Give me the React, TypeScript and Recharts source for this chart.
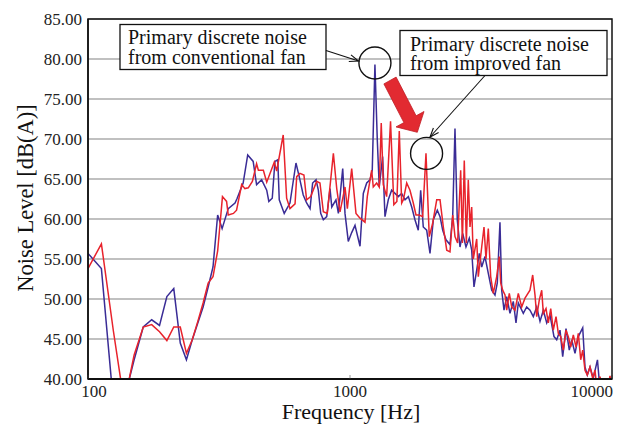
import React from "react";
import { LineChart, Line, XAxis, YAxis, CartesianGrid, ReferenceDot } from "recharts";

const blueFreq = [100, 112.5, 125, 137.5, 150, 162.5, 175, 187.5, 200, 212.5, 225, 237.5, 250, 262.5, 275, 287.5, 300, 312.5, 325, 343, 364, 371, 391, 407, 427, 440, 460, 481, 490, 505, 517, 530, 537, 561, 590, 622, 640, 663, 683, 704, 720, 742, 757, 773, 791, 815, 839, 852, 884, 903, 938, 957, 985, 1015, 1045, 1092, 1124, 1158, 1192, 1216, 1245, 1271, 1293, 1332, 1360, 1400, 1442, 1485, 1529, 1574, 1622, 1670, 1720, 1770, 1822, 1861, 1904, 1962, 2020, 2080, 2154, 2206, 2259, 2325, 2408, 2466, 2516, 2567, 2629, 2692, 2771, 2853, 2914, 2973, 3045, 3115, 3182, 3275, 3372, 3474, 3576, 3649, 3736, 3793, 3871, 3964, 4080, 4200, 4301, 4389, 4586, 4725, 4864, 5008, 5160, 5312, 5468, 5635, 5800, 6006, 6151, 6332, 6484, 6675, 6871, 7018, 7225, 7438, 7731, 7888, 8049, 8241, 8484, 8800, 8950, 9200, 10000];
const blueLevel = [55.7, 53.8, 37, 37.5, 42.4, 46.5, 47.4, 46.7, 50.3, 51.3, 44.5, 42.4, 44.9, 47, 49, 51.5, 54, 60.5, 58.8, 61.3, 62, 62.6, 64.5, 68, 67.2, 64.3, 64.9, 63.6, 62.2, 62.6, 67.2, 67.4, 62.4, 60.7, 62, 67, 65.3, 63, 62, 61.3, 64.5, 64.9, 63.6, 60.7, 59.9, 60.3, 63.8, 61.5, 62.4, 60.7, 66.3, 60.7, 57.2, 58.3, 59.2, 56.6, 63.2, 64.5, 64.9, 66.1, 79.3, 69.9, 64, 67.8, 60.3, 62.4, 63.6, 63.2, 62.8, 63.2, 62.4, 62.8, 61.5, 59.9, 58.6, 63.6, 59, 58.6, 55.7, 59.9, 61.1, 60.3, 58.6, 57.4, 56.8, 60.3, 71.3, 59.9, 56.5, 58.2, 56.5, 57.6, 56.1, 51.5, 53.6, 55.7, 54, 55.3, 53.2, 51.1, 50.5, 52, 59.6, 51.1, 48.6, 50.3, 48.2, 49.7, 47, 49.5, 48.2, 49, 48.6, 47.8, 49, 47.2, 48.6, 47, 48, 45.3, 44.9, 46.1, 42.8, 46.3, 43.6, 44.9, 43.2, 45.3, 46.4, 41.5, 40.5, 41.5, 40.1, 42.4, 39.6, 37, 36];

const redFreq = [100, 112.5, 125, 137.5, 150, 162.5, 175, 187.5, 200, 212.5, 225, 237.5, 250, 262.5, 275, 287.5, 300, 312.5, 326, 338, 343, 359, 369, 386, 397, 409, 424, 440, 447, 467, 481, 514, 525, 556, 573, 590, 617, 626, 644, 667, 683, 708, 746, 768, 791, 819, 864, 890, 916, 957, 977, 1015, 1054, 1092, 1141, 1164, 1210, 1227, 1264, 1293, 1316, 1340, 1380, 1428, 1470, 1510, 1542, 1575, 1598, 1646, 1694, 1744, 1786, 1838, 1894, 1950, 2007, 2069, 2143, 2206, 2271, 2340, 2408, 2466, 2516, 2575, 2645, 2685, 2730, 2780, 2828, 2871, 2914, 2955, 3045, 3088, 3182, 3247, 3304, 3372, 3443, 3523, 3630, 3713, 3760, 3826, 3905, 3964, 4055, 4142, 4264, 4389, 4522, 4655, 4864, 4981, 5083, 5160, 5279, 5392, 5468, 5600, 5714, 5836, 5970, 6114, 6239, 6372, 6519, 6675, 6812, 6957, 7118, 7289, 7438, 7596, 7731, 7888, 8049, 8241, 8439, 8612, 8742, 8998, 9400, 9826, 10000];
const redLevel = [53.8, 56.9, 46, 37, 43, 46.5, 46.8, 45.9, 44.8, 46.5, 46.5, 43.2, 44.9, 47.2, 49.5, 52, 52.8, 56, 62.8, 62.2, 60.5, 60.7, 61.1, 64.3, 63.8, 63.9, 64.7, 66.9, 66.1, 66.1, 64.6, 67.1, 66, 70.5, 62.6, 61.3, 61.9, 65.3, 65.7, 65.5, 62.4, 62.8, 64.7, 64.5, 60.9, 60.7, 68.2, 63.8, 60.9, 64, 61.3, 66.3, 60.7, 60.1, 59.6, 62.8, 66.1, 64, 64.5, 64, 72, 64.3, 62.8, 72.2, 61.8, 62.2, 71, 62, 62.4, 64.5, 63.6, 62, 60.5, 60.5, 60.3, 68.2, 57.8, 59.5, 62.4, 62.4, 59, 56.1, 55.9, 60.5, 57.8, 57, 66.1, 57, 67.3, 57, 64.9, 59, 61.5, 55, 57.5, 52.8, 56.5, 59, 55, 58.8, 52.8, 50.7, 52.8, 55.3, 52, 51.1, 50.5, 48.6, 50.7, 49, 48.6, 50.7, 49, 50.1, 51.1, 53, 50.5, 47.8, 49.9, 51.1, 48.2, 48.8, 47, 48.8, 46.1, 47.8, 45.7, 45.3, 43.6, 46.1, 45.3, 44, 45.5, 44, 45.7, 42.4, 43.6, 41.1, 40.5, 41.5, 40.1, 41.1, 39, 40.3, 37, 40.4, 38.5];

const xTicks = [100, 1000, 10000];
const yTicks = [40, 45, 50, 55, 60, 65, 70, 75, 80, 85];

const annotationConventional = { f: 1245, level: 79.5 };
const annotationImproved = { f: 1960, level: 68.2 };

const W = 631;
const H = 426;
const FONT = "'Liberation Serif', 'Times New Roman', serif";
const BLUE = "#3a2c96";
const RED = "#e8232c";

function buildTable() {
  const map = new Map<number, any>();
  blueFreq.forEach((f, i) => {
    const r = map.get(f) || { f };
    r.blue = blueLevel[i];
    map.set(f, r);
  });
  redFreq.forEach((f, i) => {
    const r = map.get(f) || { f };
    r.red = redLevel[i];
    map.set(f, r);
  });
  return Array.from(map.values()).sort((a, b) => a.f - b.f);
}

const data = buildTable();

const XTick = (props: any) => {
  const { x, y, payload } = props;
  const v = payload.value;
  const anchor = v === 10000 ? "end" : "middle";
  const dx = v === 100 ? 6 : v === 10000 ? 1 : 0;
  return (
    <g>
      <line x1={x} x2={x} y1={y - 4} y2={y} stroke="#999" strokeWidth={1} />
      <text x={x + dx} y={y + 18} textAnchor={anchor} fontSize={17} fontFamily={FONT} fill="#222">
        {v}
      </text>
    </g>
  );
};

const YTick = (props: any) => {
  const { x, y, payload } = props;
  return (
    <text x={x - 6} y={y + 6} textAnchor="end" fontSize={17} fontFamily={FONT} fill="#222">
      {Number(payload.value).toFixed(2)}
    </text>
  );
};

function Overlay() {
  return (
    <svg width={W} height={H} style={{ position: "absolute", left: 0, top: 0, pointerEvents: "none" }}>
      <rect x={88} y={19} width={524} height={360} fill="none" stroke="#111" strokeWidth={1.5} />
      {/* conventional fan box */}
      <rect x={120} y={24.5} width={206} height={45} fill="#fff" stroke="#111" strokeWidth={1.3} />
      <text x={128} y={44} fontSize={20} fontFamily={FONT} fill="#111">Primary discrete noise</text>
      <text x={128} y={63.5} fontSize={20} fontFamily={FONT} fill="#111">from conventional fan</text>
      <line x1={326} y1={50.5} x2={358.5} y2={61} stroke="#111" strokeWidth={1.1} />
      <polyline points="351,54.9 358.5,61 348.8,61.5" fill="none" stroke="#111" strokeWidth={1.1} />
      {/* improved fan box */}
      <rect x={400} y={30.5} width={207} height={45} fill="#fff" stroke="#111" strokeWidth={1.3} />
      <text x={410} y={50.5} fontSize={20} fontFamily={FONT} fill="#111">Primary discrete noise</text>
      <text x={410} y={70} fontSize={20} fontFamily={FONT} fill="#111">from improved fan</text>
      <line x1={485} y1={75.5} x2={430} y2={137} stroke="#111" strokeWidth={1.1} />
      <polyline points="433.4,128 430,137 438.6,132.6" fill="none" stroke="#111" strokeWidth={1.1} />
      {/* big red arrow */}
      <polygon
        points="383.9,83.9 396.1,77.1 416.1,115.8 424,111.5 417.3,132.3 396,126.9 403.9,122.6"
        fill="#e22a31"
        stroke="#c01d24"
        strokeWidth={0.8}
      />
      {/* axis titles */}
      <text
        x={33}
        y={198}
        transform="rotate(-90 33 198)"
        textAnchor="middle"
        fontSize={22.5}
        fontFamily={FONT}
        fill="#111"
      >
        Noise Level [dB(A)]
      </text>
      <text x={351} y={419} textAnchor="middle" fontSize={22} fontFamily={FONT} fill="#111">
        Frequency [Hz]
      </text>
    </svg>
  );
}

export default function App() {
  return (
    <div style={{ position: "relative", width: W, height: H, background: "#fff" }}>
      <style>{`body{margin:0;background:#fff}`}</style>
      <LineChart width={W} height={H} data={data} margin={{ top: 19, right: 19, bottom: 7, left: 8 }}>
        <CartesianGrid vertical={false} stroke="#ababab" strokeWidth={1.5} />
        <XAxis
          dataKey="f"
          type="number"
          scale="log"
          domain={[100, 10000]}
          ticks={xTicks}
          allowDataOverflow
          height={40}
          tickSize={0}
          tickMargin={0}
          tickLine={false}
          axisLine={{ stroke: "#111", strokeWidth: 2 }}
          tick={<XTick />}
          interval={0}
        />
        <YAxis
          type="number"
          domain={[40, 85]}
          ticks={yTicks}
          allowDataOverflow
          width={80}
          tickSize={0}
          tickMargin={0}
          tickLine={false}
          axisLine={{ stroke: "#111", strokeWidth: 1.5 }}
          tick={<YTick />}
          interval={0}
        />
        <Line
          dataKey="blue"
          stroke={BLUE}
          strokeWidth={1.5}
          dot={false}
          connectNulls
          isAnimationActive={false}
          type="linear"
        />
        <Line
          dataKey="red"
          stroke={RED}
          strokeWidth={1.5}
          dot={false}
          connectNulls
          isAnimationActive={false}
          type="linear"
        />
        <ReferenceDot
          x={annotationConventional.f}
          y={annotationConventional.level}
          r={16}
          fill="none"
          stroke="#111"
          strokeWidth={1.4}
          ifOverflow="visible"
        />
        <ReferenceDot
          x={annotationImproved.f}
          y={annotationImproved.level}
          r={16}
          fill="none"
          stroke="#111"
          strokeWidth={1.4}
          ifOverflow="visible"
        />
      </LineChart>
      <Overlay />
    </div>
  );
}
